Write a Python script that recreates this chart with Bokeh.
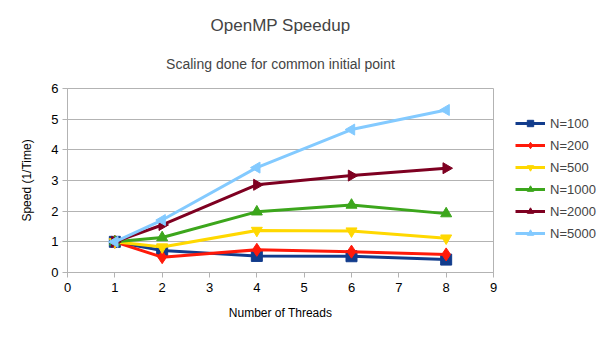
import math
from bokeh.plotting import figure
from bokeh.models import Title, Legend, FixedTicker, Range1d
from bokeh.embed import file_html
from bokeh.resources import INLINE

threads = [1, 2, 4, 6, 8]
n100 = [1.0, 0.72, 0.54, 0.53, 0.42]
n200 = [1.0, 0.50, 0.74, 0.68, 0.59]
n500 = [1.0, 0.83, 1.37, 1.35, 1.12]
n1000 = [1.0, 1.14, 1.98, 2.20, 1.92]
n2000 = [1.0, 1.55, 2.86, 3.16, 3.40]
n5000 = [1.0, 1.71, 3.42, 4.66, 5.30]

series = [
    ("N=100", n100, "#123c8c", "square", 0.0),
    ("N=200", n200, "#ff1a0a", "diamond", 0.0),
    ("N=500", n500, "#ffd800", "inverted_triangle", 0.0),
    ("N=1000", n1000, "#3ca61c", "triangle", 0.0),
    ("N=2000", n2000, "#7e0021", "triangle", -math.pi / 2),
    ("N=5000", n5000, "#83caff", "triangle", math.pi / 2),
]

FONT = "Liberation Sans"

p = figure(frame_width=426, frame_height=184, output_backend="svg", toolbar_location=None,
           x_range=Range1d(0, 9), y_range=Range1d(0, 6),
           min_border_left=67, min_border_right=112, min_border_top=88, min_border_bottom=68)

p.title.text = "OpenMP Speedup"
p.title.align = "center"
p.title.text_font = FONT
p.title.text_font_size = "17px"
p.title.text_font_style = "normal"
p.title.standoff = 3
p.add_layout(Title(text="Scaling done for common initial point", align="center", text_font=FONT,
                   text_font_size="14px", text_font_style="normal", standoff=34), "above")

items = []
for name, vals, col, mk, ang in series:
    r1 = p.line(threads, vals, line_color=col, line_width=3)
    sz = 11 if mk != "diamond" else 13
    r2 = p.scatter(threads, vals, marker=mk, size=sz, angle=ang, fill_color=col, line_color=col)
    items.append((name, [r1, r2]))

legend = Legend(items=items, location=(22, 31), border_line_color=None,
                background_fill_alpha=0, label_text_font=FONT, label_text_font_size="13px",
                glyph_width=30, glyph_height=16, spacing=6, label_standoff=5, padding=0,
                margin=0)
p.add_layout(legend, "right")

p.xaxis.ticker = FixedTicker(ticks=list(range(0, 10)))
p.yaxis.ticker = FixedTicker(ticks=list(range(0, 7)))
for ax in (p.xaxis, p.yaxis):
    ax.axis_line_color = "#b3b3b3"
    ax.major_tick_line_color = "#b3b3b3"
    ax.major_tick_out = 5
    ax.major_tick_in = 0
    ax.minor_tick_line_color = None
    ax.major_label_text_font = FONT
    ax.major_label_text_font_size = "13px"
    ax.major_label_text_color = "#000000"
    ax.axis_label_text_font = FONT
    ax.axis_label_text_font_size = "12px"
    ax.axis_label_text_font_style = "normal"
    ax.axis_label_text_color = "#000000"
p.xaxis.axis_label = "Number of Threads"
p.yaxis.axis_label = "Speed (1/Time)"
p.xaxis.axis_label_standoff = 11
p.yaxis.axis_label_standoff = 14
p.xaxis.major_label_standoff = 5
p.yaxis.major_label_standoff = 4

p.xgrid.grid_line_color = None
p.ygrid.grid_line_color = "#b3b3b3"
p.outline_line_color = "#b3b3b3"

open("out.html", "w").write(file_html(p, INLINE))
